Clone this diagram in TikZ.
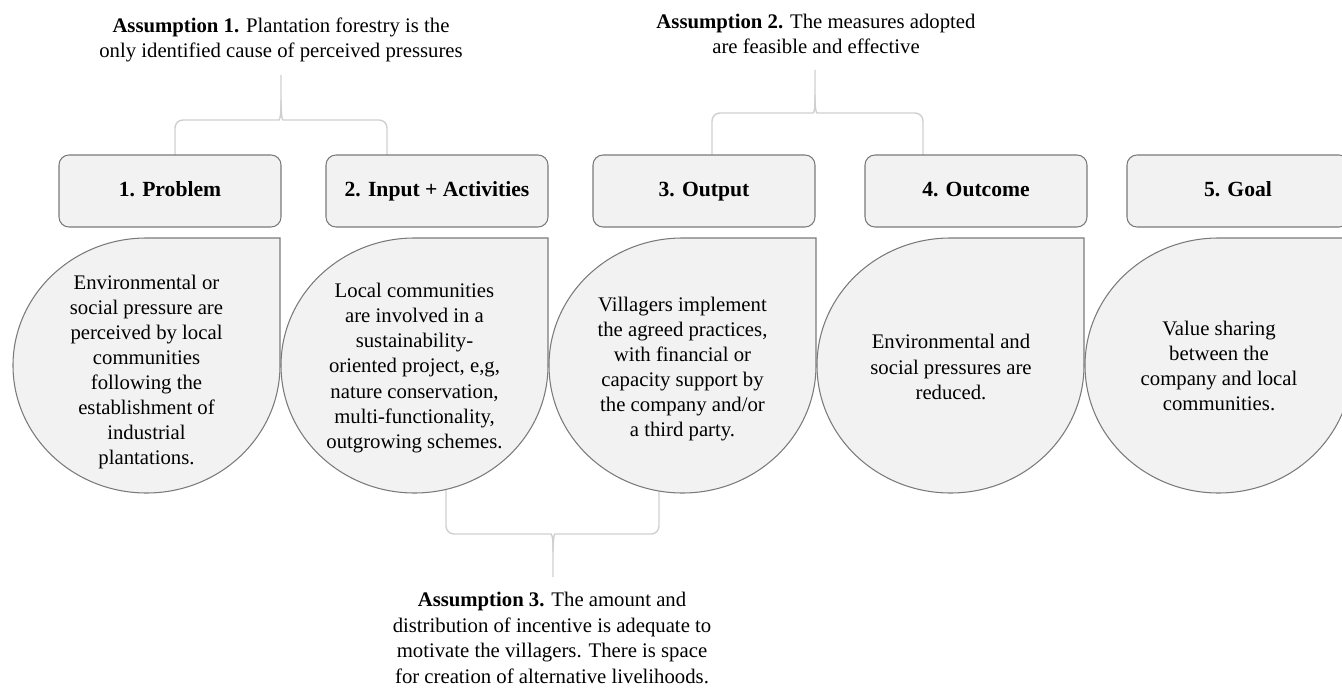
\documentclass[tikz,border=0pt]{standalone}
\usepackage{fontspec}
\setmainfont{Liberation Serif}
\usepackage{xcolor}
\usepackage{tikz}
\usetikzlibrary{positioning, calc}

\definecolor{boxfill}{HTML}{F2F2F2}
\definecolor{boxedge}{HTML}{7A7A7A}
\definecolor{bracegray}{HTML}{CFCFCF}

\begin{document}
\begin{tikzpicture}[
    x=0.2mm, y=-0.2mm,
    header/.style={draw=boxedge, fill=boxfill, line width=0.6pt, rounded corners=2mm,
        minimum width=44.4mm, minimum height=14.4mm, text height=8.6pt, text depth=2.6pt,
        font=\fontsize{12.3}{14}\selectfont\bfseries},
    drop/.style={draw=boxedge, fill=boxfill, line width=0.6pt},
    droptext/.style={align=center, font=\fontsize{11.8}{14.3}\selectfont},
    assumption/.style={align=center, font=\fontsize{11.8}{14.6}\selectfont},
    brace/.style={draw=bracegray, line width=0.8pt, rounded corners=1.6mm}
]
\useasboundingbox (0,0) rectangle (1342,688);

% Braces linking the assumptions to the steps
\coordinate (t1) at (281,75);
\coordinate (t2) at (815,70);
\coordinate (t3) at (553,577);

\draw[brace] (t1) -- (281,100) .. controls (281,113) and (280,120) .. (271,120) -| (175,156);
\draw[brace] (281,100) .. controls (281,113) and (282,120) .. (291,120) -| (387,156);

\draw[brace] (t2) -- (815,95) .. controls (815,108) and (814,113) .. (805,113) -| (712,156);
\draw[brace] (815,95) .. controls (815,108) and (816,113) .. (825,113) -| (923,156);

\draw[brace] (t3) -- (553,552) .. controls (553,540) and (552,534) .. (543,534) -| (446,480);
\draw[brace] (553,552) .. controls (553,540) and (554,534) .. (563,534) -| (659,480);

% Step headers
\node[header] (h1) at (170,191) {1. Problem};
\node[header] (h2) at (437,191) {2. Input + Activities};
\node[header] (h3) at (704,191) {3. Output};
\node[header] (h4) at (976,191) {4. Outcome};
\node[header] (h5) at (1238,191) {5. Goal};

% Drops (circle with a square top-right corner)
\draw[drop] (146.5,238) -- (280,238) -- (280,365.5) arc[start angle=0, end angle=270, x radius=133.5, y radius=127.5] -- cycle;
\draw[drop] (414.5,238) -- (548,238) -- (548,365.5) arc[start angle=0, end angle=270, x radius=133.5, y radius=127.5] -- cycle;
\draw[drop] (682.5,238) -- (816,238) -- (816,365.5) arc[start angle=0, end angle=270, x radius=133.5, y radius=127.5] -- cycle;
\draw[drop] (950.5,238) -- (1084,238) -- (1084,365.5) arc[start angle=0, end angle=270, x radius=133.5, y radius=127.5] -- cycle;
\draw[drop] (1218.5,238) -- (1352,238) -- (1352,365.5) arc[start angle=0, end angle=270, x radius=133.5, y radius=127.5] -- cycle;

\node[droptext] (d1) at (146.5,372) {Environmental or\\ social pressure are\\ perceived by local\\ communities\\ following the\\ establishment of\\ industrial\\ plantations.};
\node[droptext] (d2) at (414.5,368) {Local communities\\ are involved in a\\ sustainability-\\ oriented project, e,g,\\ nature conservation,\\ multi-functionality,\\ outgrowing schemes.};
\node[droptext] (d3) at (682.5,369) {Villagers implement\\ the agreed practices,\\ with financial or\\ capacity support by\\ the company and/or\\ a third party.};
\node[droptext] (d4) at (951,367) {Environmental and\\ social pressures are\\ reduced.};
\node[droptext] (d5) at (1219,366) {Value sharing\\ between the\\ company and local\\ communities.};

% Assumptions
\node[assumption] (as1) at (281,40) {\textbf{Assumption 1.} Plantation forestry is the\\ only identified cause of perceived pressures};
\node[assumption] (as2) at (816,34) {\textbf{Assumption 2.} The measures adopted\\ are feasible and effective};
\node[assumption] (as3) at (552,638) {\textbf{Assumption 3.} The amount and\\ distribution of incentive is adequate to\\ motivate the villagers. There is space\\ for creation of alternative livelihoods.};

\end{tikzpicture}
\end{document}
